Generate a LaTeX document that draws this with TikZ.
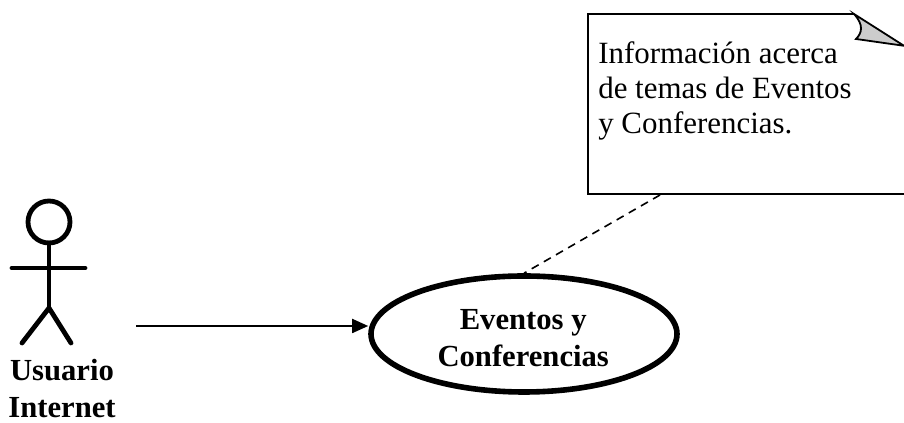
\documentclass[tikz,border=0pt]{standalone}
\usepackage{fontspec}
\setmainfont{Liberation Serif}
\usetikzlibrary{arrows.meta,shapes.geometric}
\tikzset{
	stickman/.style={line width=1.2mm, line cap=round},
	casebold/.style={font=\fontsize{21.8}{26}\selectfont\bfseries, align=center, inner sep=0},
	notetext/.style={font=\fontsize{22}{25.2}\selectfont, align=left, inner sep=0, anchor=north west},
	noteline/.style={line width=0.45mm}
}

\begin{document}
\begin{tikzpicture}
		%%%%% START %%%%%
		\useasboundingbox (0, 0) rectangle (22.6, 10.575);
		
		\draw[stickman] (1.225, 5.025) circle (0.525);
		\draw[stickman] (1.225, 4.5) -- (1.225, 2.875);
		\draw[stickman] (0.3, 3.875) -- (2.125, 3.875);
		\draw[stickman] (0.55, 2.0) -- (1.225, 2.875) -- (1.775, 2.0);
		\node[casebold] (user) at (1.55, 0.86) {Usuario\\Internet};
		
		\node[ellipse, draw, line width=1.4mm, minimum width=7.65cm, minimum height=2.9cm, inner sep=0] (events) at (13.1, 2.225) {};
		\node[casebold] (eventslabel) at (13.08, 2.125) {Eventos y\\Conferencias};
		
		\coordinate (start) at (3.4, 2.425);
		\draw[line width=0.45mm, -{Triangle[length=0.4cm, width=0.35cm]}] (start) -- (start -| events.west);
		
		\draw[noteline] (22.6, 5.725) -- (14.7, 5.725) -- (14.7, 10.225) -- (21.35, 10.225);
		\draw[noteline, fill=black!20] (21.35, 10.225) .. controls (21.6, 9.95) and (21.55, 9.75) .. (21.4, 9.6) -- (22.6, 9.43) -- cycle;
		\node[notetext] (note) at (14.95, 9.55) {Información acerca\\de temas de Eventos\\y Conferencias.};
		
		\coordinate (notefoot) at (16.5, 5.7);
		\draw[line width=0.4mm, dashed, dash pattern=on 2mm off 1.5mm] (notefoot) -- (events.north);
		
		%%%%% END %%%%%
	\end{tikzpicture}
\end{document}
